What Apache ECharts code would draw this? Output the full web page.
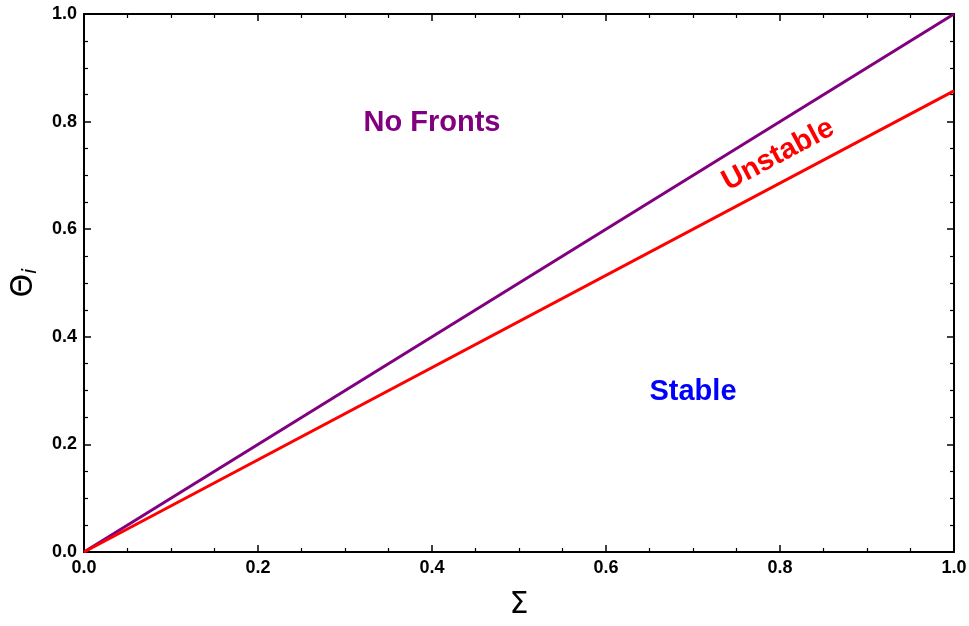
<!DOCTYPE html>
<html>
<head>
<meta charset="utf-8">
<script src="https://cdn.jsdelivr.net/npm/echarts@6/dist/echarts.min.js"></script>
<style>
  html, body { margin: 0; padding: 0; background: #fff; }
  #chart { width: 969px; height: 626px; }
</style>
</head>
<body>
<div id="chart"></div>
<script>
// boundary lines, Sigma -> Theta_i
const noFrontsLine = [[0, 0], [1, 1]];
const unstableLine = [[0, 0], [1, 0.857]];

// region labels [x, y, text, colour]
const regionLabels = [
    [0.4, 0.797, 'No Fronts', '#800080'],
    [0.7, 0.297, 'Stable', '#0000ff']
];
const unstableLabel = [0.798, 0.738, 'Unstable', '#ff0000'];

const font = 'Liberation Sans, Arial, sans-serif';

function axisStyle(showLabels) {
    return {
        type: 'value',
        min: 0,
        max: 1,
        interval: 0.2,
        axisLine: { show: true, onZero: false, lineStyle: { color: '#000', width: 2 } },
        axisTick: { show: true, inside: true, length: 7, lineStyle: { color: '#000', width: 1.5 } },
        minorTick: { show: true, splitNumber: 4, length: 4, lineStyle: { color: '#000', width: 1.2 } },
        splitLine: { show: false },
        axisLabel: {
            show: showLabels,
            color: '#000',
            fontFamily: font,
            fontWeight: 'bold',
            fontSize: 18,
            margin: 7,
            formatter: v => v.toFixed(1)
        }
    };
}

const chart = echarts.init(document.getElementById('chart'));

const xBottom = Object.assign(axisStyle(true), {
    position: 'bottom',
    name: 'Σ',
    nameLocation: 'middle',
    nameGap: 38,
    nameTextStyle: { color: '#000', fontFamily: 'DejaVu Sans, sans-serif', fontSize: 30 }
});
const xTop = Object.assign(axisStyle(false), { position: 'top' });
const yLeft = Object.assign(axisStyle(true), {
    position: 'left',
    name: '{t|Θ}{s|i}',
    nameLocation: 'middle',
    nameRotate: 90,
    nameGap: 42,
    nameTextStyle: {
        rich: {
            t: { color: '#000', fontFamily: 'DejaVu Sans, sans-serif', fontSize: 30 },
            s: { color: '#000', fontFamily: 'DejaVu Sans, sans-serif', fontSize: 20, fontStyle: 'italic', padding: [14, 0, 0, 0] }
        }
    }
});
const yRight = Object.assign(axisStyle(false), { position: 'right' });

chart.setOption({
    animation: false,
    grid: { left: 84, right: 15, top: 14, bottom: 74, containLabel: false, outerBoundsMode: 'none' },
    xAxis: [xBottom, xTop],
    yAxis: [yLeft, yRight],
    series: [
        {
            type: 'line',
            data: noFrontsLine,
            symbol: 'none',
            lineStyle: { color: '#800080', width: 3 }
        },
        {
            type: 'line',
            data: unstableLine,
            symbol: 'none',
            lineStyle: { color: '#ff0000', width: 3 }
        },
        {
            type: 'scatter',
            symbolSize: 0,
            itemStyle: { opacity: 1 },
            data: regionLabels.map(d => ({
                value: [d[0], d[1]],
                label: { color: d[3], formatter: d[2] }
            })),
            label: {
                show: true,
                position: 'inside',
                fontFamily: font,
                fontWeight: 'bold',
                fontSize: 29
            }
        },
        {
            type: 'scatter',
            symbolSize: 0,
            itemStyle: { opacity: 1 },
            data: [{
                value: [unstableLabel[0], unstableLabel[1]],
                label: { color: unstableLabel[3], formatter: unstableLabel[2] }
            }],
            label: {
                show: true,
                position: 'inside',
                rotate: 28,
                fontFamily: font,
                fontWeight: 'bold',
                fontSize: 29
            }
        }
    ]
});
</script>
</body>
</html>
